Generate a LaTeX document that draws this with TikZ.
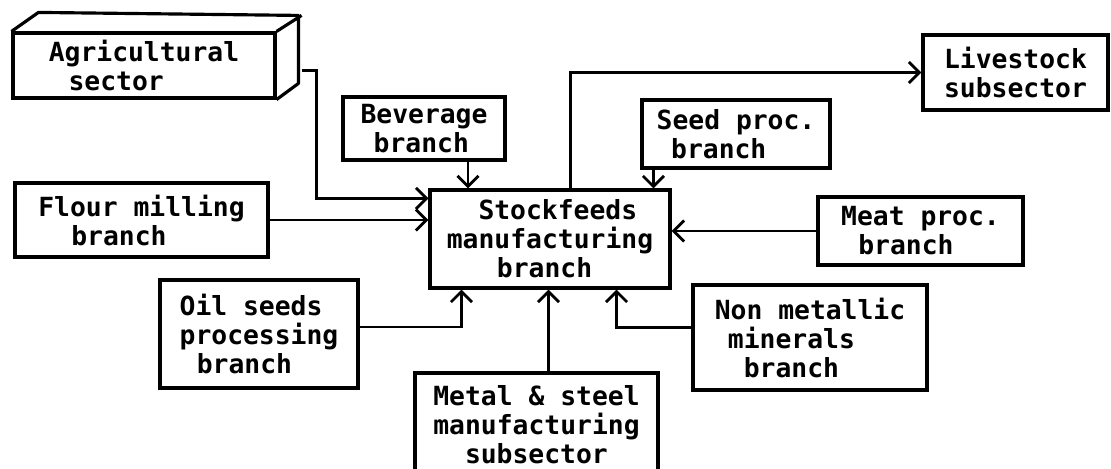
\documentclass[tikz,border=0pt]{standalone}
\usepackage{fontspec}
\setmonofont{DejaVu Sans Mono}
\usepackage{tikz}
\usetikzlibrary{positioning, arrows.meta, calc}

\begin{document}
\begin{tikzpicture}[x=0.02cm, y=-0.02cm,
    box/.style={draw, line width=1.8pt, inner sep=0pt, align=left,
      font=\ttfamily\bfseries\fontsize{15}{16.5}\selectfont},
    arr/.style={line width=1.6pt, -{Straight Barb[length=6pt, width=12pt]}}]
  \useasboundingbox (0,0) rectangle (1111,469);

  % supplying sectors and branches
  \node[box, minimum width=5.24cm, minimum height=1.30cm] (agri) at (144,65.5)
    {Agricultural\\\hspace*{0.75em}sector};
  \draw[line width=1.8pt, line join=round] (agri.north west) -- ++(27,-19) -- ++(260,3)
    -- ++(0,68) -- (agri.south east) (agri.north east) -- ++(25,-16);
  \coordinate (agriside) at ($(agri.east)+(25,5)$);

  \node[box, minimum width=5.06cm, minimum height=1.48cm] (flour) at (141.5,220)
    {Flour milling\\\hspace*{1.25em}branch};
  \node[box, minimum width=3.24cm, minimum height=1.26cm] (bev) at (424,128.5)
    {Beverage\\\hspace*{0.5em}branch};
  \node[box, minimum width=3.76cm, minimum height=1.36cm] (seed) at (736,134)
    {Seed proc.\\\hspace*{0.55em}branch};
  \node[box, minimum width=4.10cm, minimum height=1.36cm] (meat) at (920.5,231)
    {Meat proc.\\\hspace*{0.65em}branch};
  \node[box, minimum width=3.96cm, minimum height=2.16cm] (oil) at (259,334)
    {Oil seeds\\processing\\\hspace*{0.65em}branch};
  \node[box, minimum width=4.86cm, minimum height=2.06cm] (metal) at (536.5,424.5)
    {Metal \& steel\\manufacturing\\\hspace*{1.2em}subsector};
  \node[box, minimum width=4.68cm, minimum height=2.10cm] (nm) at (810,337.5)
    {Non metallic\\\hspace*{0.5em}minerals\\\hspace*{1.1em}branch};

  % centre and outlet
  \node[box, minimum width=4.80cm, minimum height=1.96cm] (sf) at (550,239)
    {\hspace*{1.2em}Stockfeeds\\manufacturing\\\hspace*{1.9em}branch};
  \node[box, minimum width=3.70cm, minimum height=1.50cm] (live) at (1015.5,72.5)
    {Livestock\\subsector};

  % connector ends
  \coordinate (bevout) at ($(bev.south)+(44,0)$);
  \coordinate (seedout) at ($(seed.south west)+(13,0)$);
  \coordinate (metalout) at ($(metal.north)+(12,0)$);
  \coordinate (oilout) at ($(oil.east)+(0,-7)$);
  \coordinate (nmout) at ($(nm.west)+(0,-10)$);
  \coordinate (sfout) at ($(sf.north west)+(142,0)$);

  % flows
  \draw[arr] (agriside) -- ++(15,0) |- ($(sf.north west)+(0,10)$);
  \draw[arr] (flour.east) -- (flour.east -| sf.west);
  \draw[arr] (bevout) -- (bevout |- sf.north);
  \draw[arr] (seedout) -- (seedout |- sf.north);
  \draw[arr] (meat.west) -- (meat.west -| sf.east);
  \draw[arr] (oilout) -| ($(sf.south west)+(33,0)$);
  \draw[arr] (metalout) -- (metalout |- sf.south);
  \draw[arr] (nmout) -| ($(sf.south east)+(-55,0)$);
  \draw[arr] (sfout) |- (live.west);
\end{tikzpicture}
\end{document}
